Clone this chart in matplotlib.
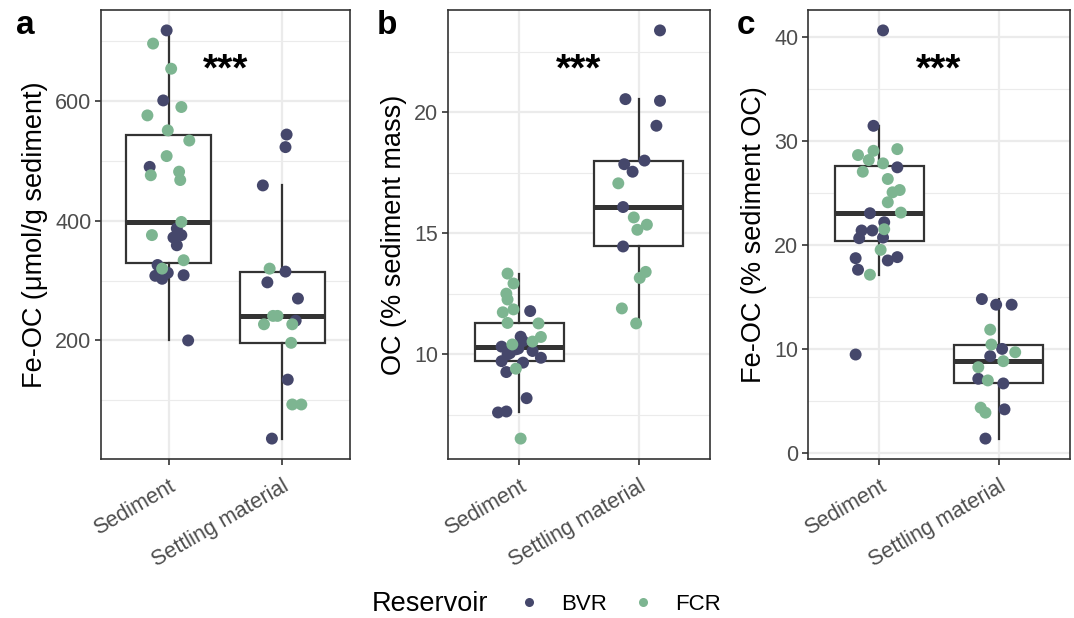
import matplotlib
matplotlib.use("Agg")
import matplotlib.pyplot as plt
from matplotlib.lines import Line2D

plt.rcParams['font.family'] = ['Liberation Sans', 'DejaVu Sans']

categories = ['Sediment', 'Settling material']
reservoirs = ['BVR', 'FCR']
res_colors = {'BVR': '#45476b', 'FCR': '#7db591'}

# panel a: Fe-OC (umol/g sediment)
a_sed_bvr = [718, 601, 490, 387, 376, 372, 359, 326, 308, 303, 313, 309, 200]
a_sed_bvr_jit = [-0.02, -0.05, -0.17, 0.07, 0.11, 0.04, 0.07, -0.10, -0.12, -0.06, -0.01, 0.13, 0.17]
a_sed_fcr = [696, 654, 590, 576, 551, 534, 508, 476, 482, 468, 398, 376, 334, 320]
a_sed_fcr_jit = [-0.14, 0.02, 0.11, -0.19, -0.01, 0.18, -0.02, -0.16, 0.09, 0.10, 0.11, -0.15, 0.13, -0.06]
a_set_bvr = [544, 523, 459, 315, 297, 270, 233, 134.5, 36]
a_set_bvr_jit = [0.04, 0.03, -0.17, 0.03, -0.13, 0.14, 0.12, 0.05, -0.09]
a_set_fcr = [320, 241, 241, 227, 227, 196, 93, 93]
a_set_fcr_jit = [-0.11, -0.08, -0.04, -0.16, 0.09, 0.08, 0.09, 0.17]

# panel b: OC (% sediment mass)
b_sed_bvr = [11.79, 10.73, 10.55, 10.32, 10.24, 10.21, 10.14, 10.05, 10.00, 9.86, 9.72, 9.66, 9.27, 8.19, 7.60, 7.64]
b_sed_bvr_jit = [0.09, 0.01, 0.03, -0.15, -0.01, -0.03, 0.11, -0.08, -0.10, 0.18, -0.15, 0.03, -0.11, 0.06, -0.18, -0.11]
b_sed_fcr = [13.34, 12.93, 12.51, 12.27, 11.74, 11.86, 11.30, 11.28, 10.72, 10.53, 10.41, 9.41, 6.52]
b_sed_fcr_jit = [-0.10, -0.05, -0.11, -0.10, -0.14, -0.05, -0.10, 0.16, 0.18, 0.11, -0.06, -0.03, 0.01]
b_set_bvr = [23.39, 20.55, 20.48, 19.45, 18.01, 17.86, 17.55, 16.09, 14.46]
b_set_bvr_jit = [0.18, -0.11, 0.18, 0.15, 0.05, -0.12, -0.05, -0.13, -0.13]
b_set_fcr = [17.07, 15.66, 15.15, 15.36, 13.41, 13.16, 11.90, 11.28]
b_set_fcr_jit = [-0.17, -0.04, -0.01, 0.07, 0.06, 0.01, -0.14, -0.02]

# panel c: Fe-OC (% sediment OC)
c_sed_bvr = [40.64, 31.47, 27.48, 23.07, 22.20, 21.41, 21.41, 20.67, 20.73, 18.75, 18.53, 18.85, 17.64, 9.49]
c_sed_bvr_jit = [0.03, -0.05, 0.15, -0.08, 0.04, -0.15, -0.06, -0.17, 0.03, -0.20, 0.07, 0.15, -0.18, -0.20]
c_sed_fcr = [29.23, 29.07, 28.66, 28.18, 27.86, 27.06, 26.36, 25.30, 25.08, 24.12, 23.13, 21.53, 19.55, 17.16]
c_sed_fcr_jit = [0.15, -0.05, -0.18, -0.09, 0.03, -0.14, 0.07, 0.17, 0.11, 0.07, 0.18, 0.04, 0.01, -0.08]
c_set_bvr = [14.82, 14.28, 14.28, 10.03, 9.33, 7.16, 6.71, 4.22, 1.41]
c_set_bvr_jit = [-0.14, -0.02, 0.11, 0.03, -0.07, -0.17, 0.04, 0.05, -0.11]
c_set_fcr = [11.88, 10.45, 9.71, 8.85, 8.27, 7.00, 4.38, 3.90]
c_set_fcr_jit = [-0.07, -0.06, 0.14, 0.04, -0.17, -0.09, -0.15, -0.11]

ylabels = ['Fe-OC (μmol/g sediment)', 'OC (% sediment mass)', 'Fe-OC (% sediment OC)']
panel_letters = ['a', 'b', 'c']
major_ticks = [[200, 400, 600], [10, 15, 20], [0, 10, 20, 30, 40]]
minor_ticks = [[100, 300, 500, 700], [7.5, 12.5, 17.5, 22.5], [5, 15, 25, 35]]

panels = [
    {'BVR': (a_sed_bvr, a_sed_bvr_jit, a_set_bvr, a_set_bvr_jit),
     'FCR': (a_sed_fcr, a_sed_fcr_jit, a_set_fcr, a_set_fcr_jit)},
    {'BVR': (b_sed_bvr, b_sed_bvr_jit, b_set_bvr, b_set_bvr_jit),
     'FCR': (b_sed_fcr, b_sed_fcr_jit, b_set_fcr, b_set_fcr_jit)},
    {'BVR': (c_sed_bvr, c_sed_bvr_jit, c_set_bvr, c_set_bvr_jit),
     'FCR': (c_sed_fcr, c_sed_fcr_jit, c_set_fcr, c_set_fcr_jit)},
]

W, H = 1074, 618
fig = plt.figure(figsize=(W / 100, H / 100), dpi=100)

axes_px = [(101, 350), (448, 710), (808, 1070)]
letter_x = [16, 377, 737]
top_px, bot_px = 10, 459

grey20 = '#333333'
grey30 = '#4d4d4d'
grid_col = '#ebebeb'

for i, panel in enumerate(panels):
    l, r = axes_px[i]
    ax = fig.add_axes([l / W, 1 - bot_px / H, (r - l) / W, (bot_px - top_px) / H])

    sed_all = panel['BVR'][0] + panel['FCR'][0]
    set_all = panel['BVR'][2] + panel['FCR'][2]
    allv = sed_all + set_all
    lo, hi = min(allv), max(allv)
    pad = (hi - lo) * 0.05
    ax.set_ylim(lo - pad, hi + pad)
    ax.set_xlim(0.4, 2.6)

    ax.boxplot([sed_all, set_all], positions=[1, 2], widths=0.75, whis=1.5,
               showfliers=False, showcaps=False, patch_artist=True,
               boxprops=dict(facecolor='white', edgecolor=grey20, linewidth=1.6),
               medianprops=dict(color=grey20, linewidth=3.6, solid_capstyle='butt'),
               whiskerprops=dict(color=grey20, linewidth=1.6),
               zorder=2)

    for res in reservoirs:
        sed, sed_j, sett, sett_j = panel[res]
        xs = [1 + j for j in sed_j] + [2 + j for j in sett_j]
        ys = sed + sett
        ax.scatter(xs, ys, s=74, color=res_colors[res], edgecolors='none', zorder=3)

    ax.set_yticks(major_ticks[i])
    ax.set_yticks(minor_ticks[i], minor=True)
    ax.set_xticks([1, 2])
    ax.set_xticklabels(categories, rotation=30, ha='right', rotation_mode='anchor',
                       fontsize=15.5)
    ax.grid(True, which='major', color=grid_col, linewidth=1.6, zorder=0)
    ax.grid(True, which='minor', axis='y', color=grid_col, linewidth=0.8, zorder=0)
    ax.set_axisbelow(True)
    ax.tick_params(axis='both', which='major', length=4, width=1.2, color=grey20,
                   labelcolor=grey30)
    ax.tick_params(axis='y', which='major', labelsize=15.5, pad=3)
    ax.tick_params(axis='x', which='major', pad=8)
    ax.tick_params(axis='y', which='minor', length=0)
    for sp in ax.spines.values():
        sp.set_color(grey20)
        sp.set_linewidth(1.2)
    ax.set_ylabel(ylabels[i], fontsize=19.5, color='black', labelpad=5)

    ax.text(0.5, 0.866, '***', transform=ax.transAxes, ha='center', va='center',
            fontsize=28, fontweight='bold', color='black')

    fig.text(letter_x[i] / W, 1 - 34 / H, panel_letters[i], fontsize=24,
             fontweight='bold', ha='left', va='baseline')

# legend at bottom
fig.text(372 / W, 1 - 604 / H, 'Reservoir', fontsize=19.5, ha='left', va='center')
handles = [Line2D([], [], marker='o', linestyle='none', markersize=6.5,
                  markerfacecolor=res_colors[r], markeredgecolor='none', label=r)
           for r in reservoirs]
fig.legend(handles=handles, loc='center left', bbox_to_anchor=(503 / W, 1 - 604 / H),
           ncol=2, frameon=False, fontsize=16, handletextpad=0.7, columnspacing=0.9,
           borderaxespad=0, handlelength=1.5)

fig.savefig('out.png', dpi=100)
